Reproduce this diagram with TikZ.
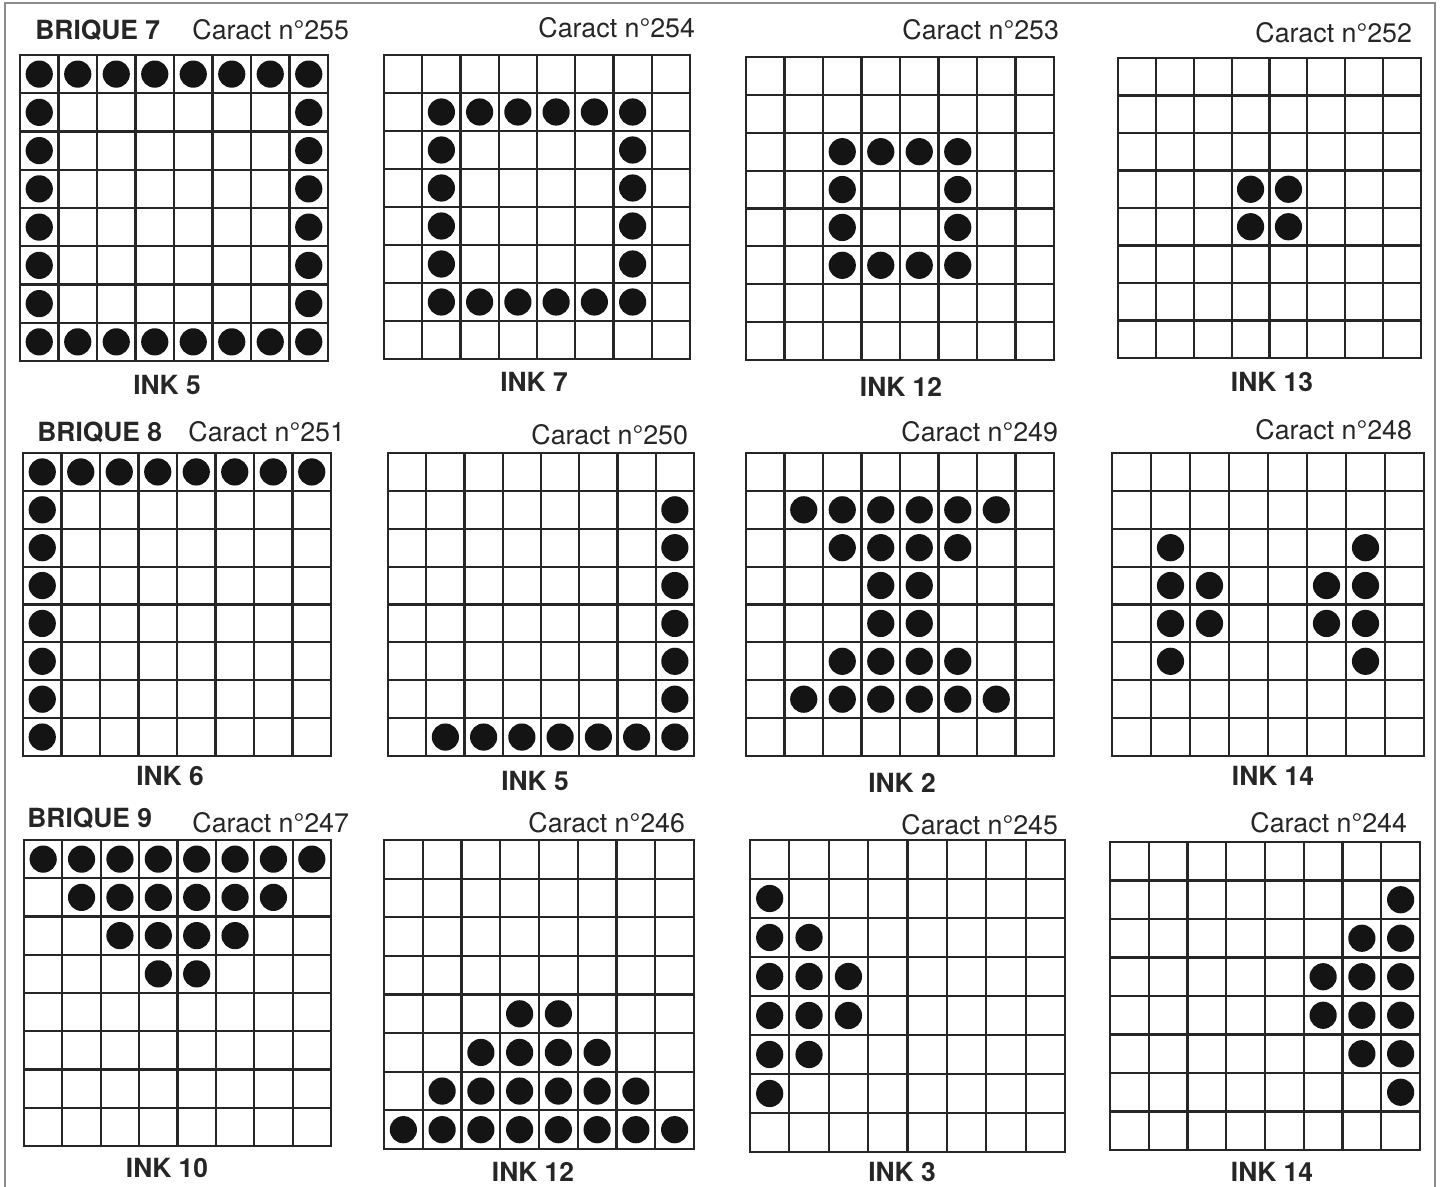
\documentclass[tikz,border=0pt]{standalone}
\usepackage{fontspec}
\setmainfont{TeX Gyre Heros}
\newcommand\dotgrid[5]{%
  \draw[gridline] (#1,#2) rectangle (#3,#4);
  \foreach \i in {1,...,7}{%
    \draw[gridline] ({#1+(#3-#1)*\i/8},#2) -- ({#1+(#3-#1)*\i/8},#4);
    \draw[gridline] (#1,{#2+(#4-#2)*\i/8}) -- (#3,{#2+(#4-#2)*\i/8});
  }%
  \foreach \r/\c in {#5}{%
    \fill[dotstyle] ({#1+(#3-#1)*(\c+0.5)/8},{#2+(#4-#2)*(\r+0.5)/8}) circle[radius=6.8pt];
  }%
}
\begin{document}
\begin{tikzpicture}[x=0.5pt,y=-0.5pt,
  gridline/.style={line width=1.05pt,black!85},
  dotstyle/.style={fill=black!92},
  captext/.style={anchor=base west,inner sep=0pt,font=\fontsize{13.4}{15}\selectfont,text=black!85},
  brique/.style={anchor=base west,inner sep=0pt,font=\fontsize{13.2}{15}\selectfont\bfseries,text=black!85},
  inklabel/.style={anchor=base,inner sep=0pt,font=\fontsize{13.2}{15}\selectfont\bfseries,text=black!85},
  frame/.style={line width=0.8pt,black!45}]
\fill[white] (0,0) rectangle (1441,1187);
\useasboundingbox (0,0) rectangle (1441,1187);
\draw[frame] (5,1187) -- (5,3) -- (1435,3) -- (1435,1187);

% Row 1
\dotgrid{20}{55}{328}{361}{0/0,0/1,0/2,0/3,0/4,0/5,0/6,0/7,7/0,7/1,7/2,7/3,7/4,7/5,7/6,7/7,1/0,2/0,3/0,4/0,5/0,6/0,1/7,2/7,3/7,4/7,5/7,6/7}
\dotgrid{384}{55}{690}{359}{1/1,1/2,1/3,1/4,1/5,1/6,6/1,6/2,6/3,6/4,6/5,6/6,2/1,3/1,4/1,5/1,2/6,3/6,4/6,5/6}
\dotgrid{746}{57}{1054}{360}{2/2,2/3,2/4,2/5,5/2,5/3,5/4,5/5,3/2,4/2,3/5,4/5}
\dotgrid{1118}{58}{1421}{358}{3/3,3/4,4/3,4/4}
% Row 2
\dotgrid{23}{453}{331}{756}{0/0,0/1,0/2,0/3,0/4,0/5,0/6,0/7,1/0,2/0,3/0,4/0,5/0,6/0,7/0}
\dotgrid{388}{453}{694}{756}{1/7,2/7,3/7,4/7,5/7,6/7,7/7,7/1,7/2,7/3,7/4,7/5,7/6}
\dotgrid{746}{453}{1054}{756}{1/1,1/2,1/3,1/4,1/5,1/6,2/2,2/3,2/4,2/5,3/3,3/4,4/3,4/4,5/2,5/3,5/4,5/5,6/1,6/2,6/3,6/4,6/5,6/6}
\dotgrid{1112}{453}{1424}{756}{2/1,2/6,3/1,3/2,3/5,3/6,4/1,4/2,4/5,4/6,5/1,5/6}
% Row 3
\dotgrid{24}{840}{331}{1146}{0/0,0/1,0/2,0/3,0/4,0/5,0/6,0/7,1/1,1/2,1/3,1/4,1/5,1/6,2/2,2/3,2/4,2/5,3/3,3/4}
\dotgrid{384}{840}{694}{1149}{4/3,4/4,5/2,5/3,5/4,5/5,6/1,6/2,6/3,6/4,6/5,6/6,7/0,7/1,7/2,7/3,7/4,7/5,7/6,7/7}
\dotgrid{750}{840}{1065}{1152}{1/0,2/0,2/1,3/0,3/1,3/2,4/0,4/1,4/2,5/0,5/1,6/0}
\dotgrid{1110}{842}{1420}{1150}{1/7,2/6,2/7,3/5,3/6,3/7,4/5,4/6,4/7,5/6,5/7,6/7}

% Labels row 1
\node[brique] (b7) at (35,40) {BRIQUE 7};
\node[captext] (c255) at (192,40) {Caract n°255};
\node[captext] (c254) at (538,38) {Caract n°254};
\node[captext] (c253) at (902,40) {Caract n°253};
\node[captext] (c252) at (1255,43) {Caract n°252};
\node[inklabel] (i1) at (167,395) {INK 5};
\node[inklabel] (i2) at (534,392) {INK 7};
\node[inklabel] (i3) at (901,397) {INK 12};
\node[inklabel] (i4) at (1272,392) {INK 13};
% Labels row 2
\node[brique] (b8) at (37,442) {BRIQUE 8};
\node[captext] (c251) at (188,442) {Caract n°251};
\node[captext] (c250) at (531,445) {Caract n°250};
\node[captext] (c249) at (901,442) {Caract n°249};
\node[captext] (c248) at (1255,440) {Caract n°248};
\node[inklabel] (i5) at (170,785) {INK 6};
\node[inklabel] (i6) at (535,790) {INK 5};
\node[inklabel] (i7) at (902,792) {INK 2};
\node[inklabel] (i8) at (1273,785) {INK 14};
% Labels row 3
\node[brique] (b9) at (27,827) {BRIQUE 9};
\node[captext] (c247) at (192,832) {Caract n°247};
\node[captext] (c246) at (528,832) {Caract n°246};
\node[captext] (c245) at (901,834) {Caract n°245};
\node[captext] (c244) at (1250,832) {Caract n°244};
\node[inklabel] (i9) at (167,1177) {INK 10};
\node[inklabel] (i10) at (533,1181) {INK 12};
\node[inklabel] (i11) at (902,1181) {INK 3};
\node[inklabel] (i12) at (1272,1181) {INK 14};
\end{tikzpicture}
\end{document}
